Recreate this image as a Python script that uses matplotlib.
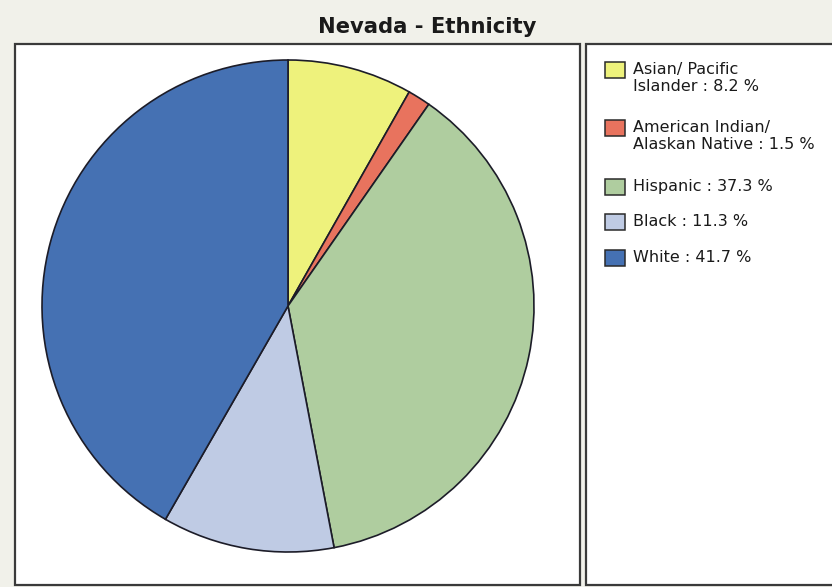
import matplotlib.pyplot as plt
from matplotlib.patches import Rectangle

# Nevada ethnicity shares (%)
groups = ['Asian/ Pacific\nIslander', 'American Indian/\nAlaskan Native', 'Hispanic', 'Black', 'White']
shares = [8.2, 1.5, 37.3, 11.3, 41.7]
colors = ['#eef27c', '#e8735e', '#afcd9f', '#bfcbe4', '#4571b3']

W, H = 832, 587
fig = plt.figure(figsize=(W / 100, H / 100), dpi=100)
fig.patch.set_facecolor('#f1f1ea')


def px_box(x0, y0, x1, y1):
    # pixel box (top-left origin) -> figure fraction rect
    return [x0 / W, 1 - y1 / H, (x1 - x0) / W, (y1 - y0) / H]


# panel frames
for x0, x1 in [(15, 580), (586, 840)]:
    fig.patches.append(Rectangle((x0 / W, 1 - 585 / H), (x1 - x0) / W, (585 - 44) / H,
                                 transform=fig.transFigure, facecolor='white',
                                 edgecolor='#3a3a3a', linewidth=1.6, zorder=-5))

fig.text(427 / W, 1 - 27 / H, 'Nevada - Ethnicity', ha='center', va='center',
         fontsize=15.2, fontweight='bold', color='#1a1a1a')

# pie centred at (288, 306), radius 246 px
cx, cy, r = 288, 306, 246
ax = fig.add_axes(px_box(cx - r, cy - r, cx + r, cy + r))
ax.set_zorder(2)
ax.pie(shares, colors=colors, startangle=90, counterclock=False, radius=1.0,
       wedgeprops=dict(edgecolor='#1c1c28', linewidth=1.2))
ax.set_xlim(-1, 1)
ax.set_ylim(-1, 1)
ax.set_aspect('equal')
ax.axis('off')

# legend: swatch aligned with the first text line of each entry
row_y = [70, 128, 187, 222, 258]
for g, s, c, y in zip(groups, shares, colors, row_y):
    fig.patches.append(Rectangle((605 / W, 1 - (y + 8) / H), 20 / W, 16 / H,
                                 transform=fig.transFigure, facecolor=c,
                                 edgecolor='#2a2a2a', linewidth=1.1, zorder=3))
    fig.text(633 / W, 1 - (y - 8) / H, f'{g} : {s} %', ha='left', va='top',
             fontsize=11.5, color='#1a1a1a', linespacing=1.2)

fig.savefig('out.png', dpi=100, facecolor=fig.get_facecolor())
